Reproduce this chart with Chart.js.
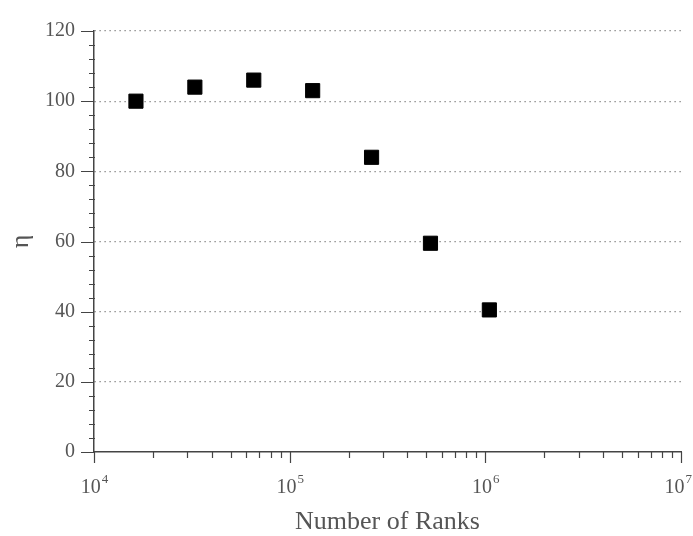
<!DOCTYPE html>
<html>
<head>
<meta charset="utf-8">
<script src="https://cdn.jsdelivr.net/npm/chart.js@4.4.0/dist/chart.umd.min.js"></script>
<style>
  html, body { margin: 0; padding: 0; background: #fff; }
  #wrap { width: 693px; height: 536px; }
</style>
</head>
<body>
<div id="wrap"><canvas id="etaChart" width="693" height="536"></canvas></div>
<script>
// data
const ranks = [16384, 32768, 65536, 131072, 262144, 524288, 1048576];
const eta = [100, 104, 106, 103, 84, 59.5, 40.5];
const xMajorTicks = [1e4, 1e5, 1e6, 1e7];
const xExponents = ['4', '5', '6', '7'];
const yTicks = [0, 20, 40, 60, 80, 100, 120];

const serif = '"Liberation Serif", "DejaVu Serif", serif';
const textGrey = '#555';
const axisGrey = '#444';

// ticks and superscript labels drawn on the scales
const axisTicks = {
    id: 'axisTicks',
    afterDraw(chart) {
        const ctx = chart.ctx;
        const xs = chart.scales.x;
        const ys = chart.scales.y;
        const x0 = ys.left + ys.width;
        const y0 = xs.top;
        ctx.save();
        ctx.strokeStyle = axisGrey;
        ctx.lineWidth = 1.2;
        ctx.beginPath();
        // y ticks
        for (let v = 0; v <= 120; v += 4) {
            const py = Math.round(ys.getPixelForValue(v)) + 0.5;
            if (v % 20 === 0) {
                ctx.moveTo(x0 - 13, py);
                ctx.lineTo(x0, py);
            } else {
                ctx.moveTo(x0 - 5, py);
                ctx.lineTo(x0 + 1, py);
            }
        }
        // x ticks
        for (let e = 4; e <= 7; e++) {
            for (let m = 1; m <= 9; m++) {
                if (e === 7 && m > 1) break;
                const px = Math.round(xs.getPixelForValue(m * Math.pow(10, e))) + 0.5;
                ctx.moveTo(px, y0);
                ctx.lineTo(px, y0 + (m === 1 ? 11 : 6));
            }
        }
        ctx.stroke();

        // x labels 10^n
        ctx.fillStyle = textGrey;
        ctx.textBaseline = 'alphabetic';
        xMajorTicks.forEach((v, i) => {
            const px = xs.getPixelForValue(v);
            ctx.font = '20px ' + serif;
            const w1 = ctx.measureText('10').width;
            ctx.font = '13px ' + serif;
            const w2 = ctx.measureText(xExponents[i]).width;
            let start = px - (w1 + w2) / 2;
            if (start + w1 + w2 + 1 > chart.width - 1) start = chart.width - 2 - w1 - w2;
            ctx.font = '20px ' + serif;
            ctx.textAlign = 'left';
            ctx.fillText('10', start, 493);
            ctx.font = '13px ' + serif;
            ctx.fillText(xExponents[i], start + w1 + 1, 483);
        });
        ctx.restore();
    }
};

const ctx = document.getElementById('etaChart').getContext('2d');
const etaChart = new Chart(ctx, {
    type: 'scatter',
    data: {
        datasets: [{
            label: 'η',
            data: ranks.map((r, i) => ({x: r, y: eta[i]})),
            pointStyle: 'rect',
            pointRadius: 10,
            pointHoverRadius: 10,
            backgroundColor: '#000',
            borderColor: '#000',
            borderWidth: 1
        }]
    },
    options: {
        responsive: false,
        animation: false,
        events: [],
        layout: {
            padding: {top: 16, right: 12, left: 0, bottom: 0}
        },
        plugins: {
            legend: {display: false},
            tooltip: {enabled: false}
        },
        scales: {
            x: {
                type: 'logarithmic',
                min: 1e4,
                max: 1e7,
                afterBuildTicks: scale => {
                    scale.ticks = xMajorTicks.map(v => ({value: v, major: true}));
                },
                afterFit: scale => { scale.height = 84; },
                grid: {display: false},
                border: {display: true, color: axisGrey, width: 1.5},
                ticks: {display: false},
                title: {
                    display: true,
                    text: 'Number of Ranks',
                    color: textGrey,
                    font: {family: serif, size: 26, lineHeight: 1},
                    padding: {top: 0, bottom: 1}
                }
            },
            y: {
                min: 0,
                max: 120,
                afterBuildTicks: scale => {
                    scale.ticks = yTicks.map(v => ({value: v}));
                },
                afterFit: scale => { scale.width = 94; },
                grid: {
                    drawTicks: false,
                    color: c => (c.tick && c.tick.value === 0) ? 'rgba(0,0,0,0)' : '#777',
                    lineWidth: 1.2
                },
                border: {display: true, color: axisGrey, width: 1.5, dash: [1.2, 3.8]},
                ticks: {
                    color: textGrey,
                    padding: 19,
                    font: {family: serif, size: 20}
                },
                title: {
                    display: true,
                    text: 'η',
                    color: textGrey,
                    font: {family: serif, size: 26, lineHeight: 1},
                    padding: {top: 8, bottom: 0}
                }
            }
        }
    },
    plugins: [axisTicks]
});
</script>
</body>
</html>
